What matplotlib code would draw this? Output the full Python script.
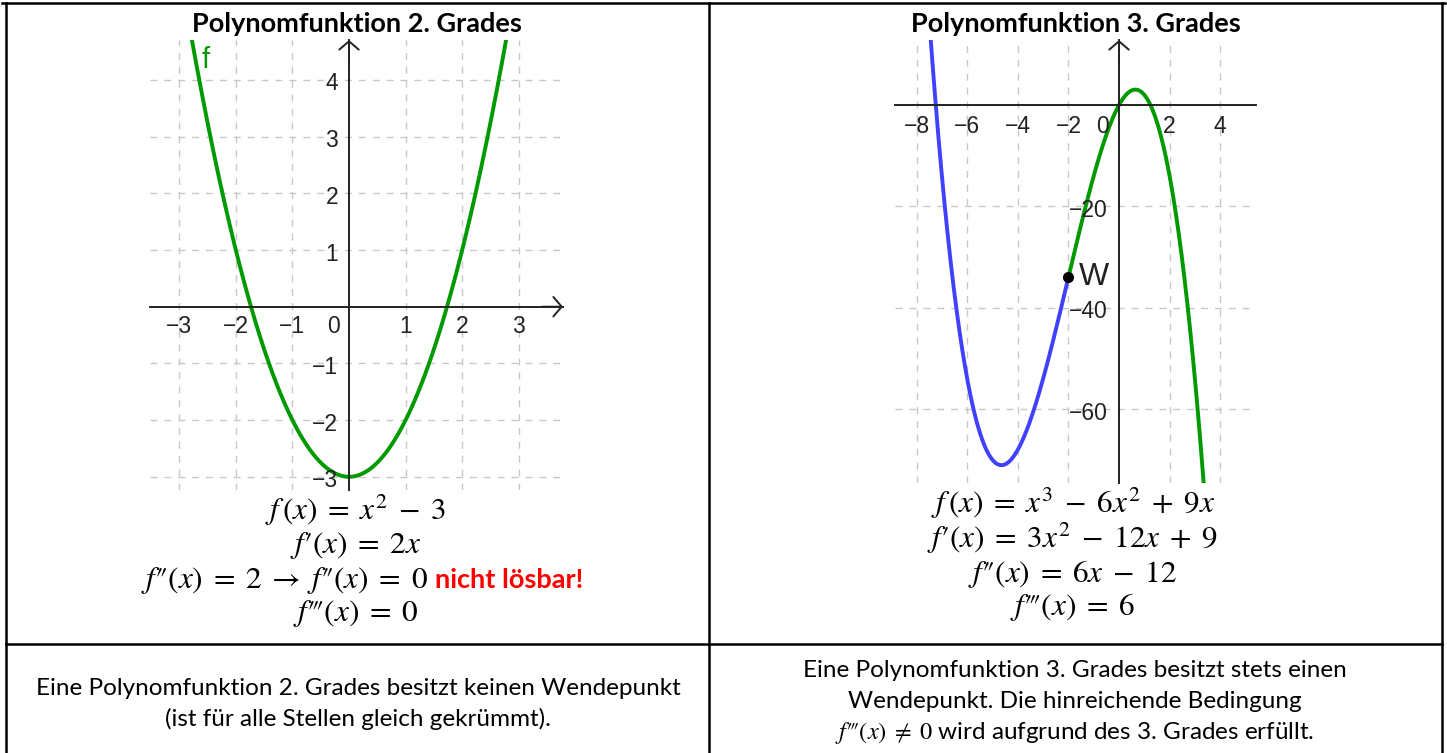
import numpy as np
import matplotlib
matplotlib.use('Agg')
import matplotlib.pyplot as plt
from matplotlib.lines import Line2D

plt.rcParams['mathtext.fontset'] = 'stix'
plt.rcParams['font.family'] = ['Lato', 'DejaVu Sans']

W, H = 1447, 753

# data
quad_coeffs = [1, 0, -3]          # gezeichnet: x^2 - 3
cubic_coeffs = [-1, -6, 9, 0]     # gezeichnet wie im Original: -x^3 - 6x^2 + 9x
inflection_x = -2
quad_xticks = [-3, -2, -1, 1, 2, 3]
quad_yticks = [-3, -2, -1, 1, 2, 3, 4]
cubic_xticks = [-8, -6, -4, -2, 2, 4]
cubic_yticks = [-60, -40, -20]

titles = ['Polynomfunktion 2. Grades', 'Polynomfunktion 3. Grades']
quad_lines = [r"$f\,(x) \;=\; x^2 \;-\; 3$",
              r"$f′(x) \;=\; 2x$",
              r"$f″(x) \;=\; 2 \;\rightarrow\; f″(x) \;=\; 0$",
              r"$f‴(x) \;=\; 0$"]
quad_remark = 'nicht lösbar!'
cubic_lines = [r"$f\,(x) \;=\; x^3 \;-\; 6x^2 \;+\; 9x$",
               r"$f′(x) \;=\; 3x^2 \;-\; 12x \;+\; 9$",
               r"$f″(x) \;=\; 6x \;-\; 12$",
               r"$f‴(x) \;=\; 6$"]
note_left = ['Eine Polynomfunktion 2. Grades besitzt keinen Wendepunkt',
             '(ist für alle Stellen gleich gekrümmt).']
note_right = ['Eine Polynomfunktion 3. Grades besitzt stets einen',
              'Wendepunkt. Die hinreichende Bedingung',
              r"$f‴(x) \;\neq\; 0$ wird aufgrund des 3. Grades erfüllt."]

GREEN = '#009900'
BLUE = '#4040ff'
AXIS = '#222222'

fig = plt.figure(figsize=(W / 100, H / 100), dpi=100)


def ftext(x, y, s, **kw):
    return fig.text(x / W, 1 - y / H, s, **kw)


def fline(x0, y0, x1, y1):
    fig.add_artist(Line2D([x0 / W, x1 / W], [1 - y0 / H, 1 - y1 / H],
                          transform=fig.transFigure, color='black', lw=1.8))


def make_axes(left, top, right, bottom):
    return fig.add_axes([left / W, 1 - bottom / H, (right - left) / W, (bottom - top) / H])


def fmt(v):
    return str(v).replace('-', '\u2212')


def setup(ax, xlim, ylim, xticks, yticks, xlab_off, zero_off, x_arrow):
    ax.set_xlim(xlim)
    ax.set_ylim(ylim)
    ax.set_xticks(xticks)
    ax.set_yticks(yticks)
    ax.tick_params(length=0, labelbottom=False, labelleft=False)
    ax.grid(True, color='#c8c8c8', lw=1, ls=(0, (5, 5)))
    ax.patch.set_alpha(0)
    for s in ['top', 'right']:
        ax.spines[s].set_visible(False)
    for s in ['bottom', 'left']:
        ax.spines[s].set_position(('data', 0))
        ax.spines[s].set_color(AXIS)
        ax.spines[s].set_linewidth(1.4)
    head = '->,head_length=0.6,head_width=0.7'
    ax.annotate('', xy=(0, ylim[1]), xytext=(0, ylim[1] - (ylim[1] - ylim[0]) * 0.05),
                arrowprops=dict(arrowstyle=head, lw=1.4, color=AXIS, shrinkA=0, shrinkB=0),
                annotation_clip=False)
    if x_arrow:
        ax.annotate('', xy=(xlim[1], 0), xytext=(xlim[1] - (xlim[1] - xlim[0]) * 0.05, 0),
                    arrowprops=dict(arrowstyle=head, lw=1.4, color=AXIS, shrinkA=0, shrinkB=0),
                    annotation_clip=False)
    lab = dict(textcoords='offset pixels', fontsize=16.5, color=AXIS,
               family='Liberation Sans', va='center')
    for v in xticks:
        ax.annotate(fmt(v), (v, 0), xytext=(0, -xlab_off), ha='center', **lab)
    for v in yticks:
        ax.annotate(fmt(v), (0, v), xytext=(-11, -4), ha='right', **lab)
    ax.annotate('0', (0, 0), xytext=(-zero_off, -xlab_off), ha='center', **lab)


# table borders
fline(2, 3, 1445, 3)
fline(6, 3, 6, 753)
fline(709, 3, 709, 753)
fline(1442, 3, 1442, 753)
fline(6, 644, 1442, 644)

# titles
ftext(357, 32, titles[0], ha='center', va='baseline', fontsize=19.5, weight='bold')
ftext(1076, 32, titles[1], ha='center', va='baseline', fontsize=19.5, weight='bold')

# quadratic graph
ax1 = make_axes(150, 40, 563, 490)
setup(ax1, (-3.516, 3.781), (-3.233, 4.704), quad_xticks, quad_yticks, 20, 16, True)
xq = np.linspace(-3.6, 3.8, 400)
ax1.plot(xq, np.polyval(quad_coeffs, xq), color=GREEN, lw=2.8)
ax1.text(-2.54, 4.35, 'f', color=GREEN, fontsize=21, family='Liberation Sans',
         ha='center', va='center')

# cubic graph
ax2 = make_axes(895, 40, 1256, 483)
setup(ax2, (-8.854, 5.415), (-74.56, 12.82), cubic_xticks, cubic_yticks, 22, 17, False)
xl = np.linspace(-9, inflection_x, 400)
xr = np.linspace(inflection_x, 5.5, 400)
ax2.plot(xl, np.polyval(cubic_coeffs, xl), color=BLUE, lw=2.8)
ax2.plot(xr, np.polyval(cubic_coeffs, xr), color=GREEN, lw=2.8)
wy = np.polyval(cubic_coeffs, inflection_x)
ax2.plot([inflection_x], [wy], 'o', color='black', ms=7, zorder=5, clip_on=False)
ax2.annotate('W', (inflection_x, wy), xytext=(10, 0), textcoords='offset pixels',
             ha='left', va='center', fontsize=23, family='Liberation Sans', color=AXIS)

# formulas
qbase = [520, 553, 588, 621]
cbase = [513, 548, 582, 615]
fs_math = 22.5
for i, s in enumerate(quad_lines):
    if i == 2:
        ftext(428, qbase[i], s, ha='right', va='baseline', fontsize=fs_math)
        ftext(435, qbase[i], quad_remark, ha='left', va='baseline', fontsize=19.5,
              weight='bold', color='#ff0000')
    else:
        ftext(356, qbase[i], s, ha='center', va='baseline', fontsize=fs_math)
for i, s in enumerate(cubic_lines):
    ftext(1073, cbase[i], s, ha='center', va='baseline', fontsize=fs_math)

# notes
for s, y in zip(note_left, [695, 726]):
    ftext(358, y, s, ha='center', va='baseline', fontsize=17.5)
for s, y in zip(note_right, [677, 708, 739]):
    ftext(1075, y, s, ha='center', va='baseline', fontsize=17.5)

fig.savefig('out.png', dpi=100)
